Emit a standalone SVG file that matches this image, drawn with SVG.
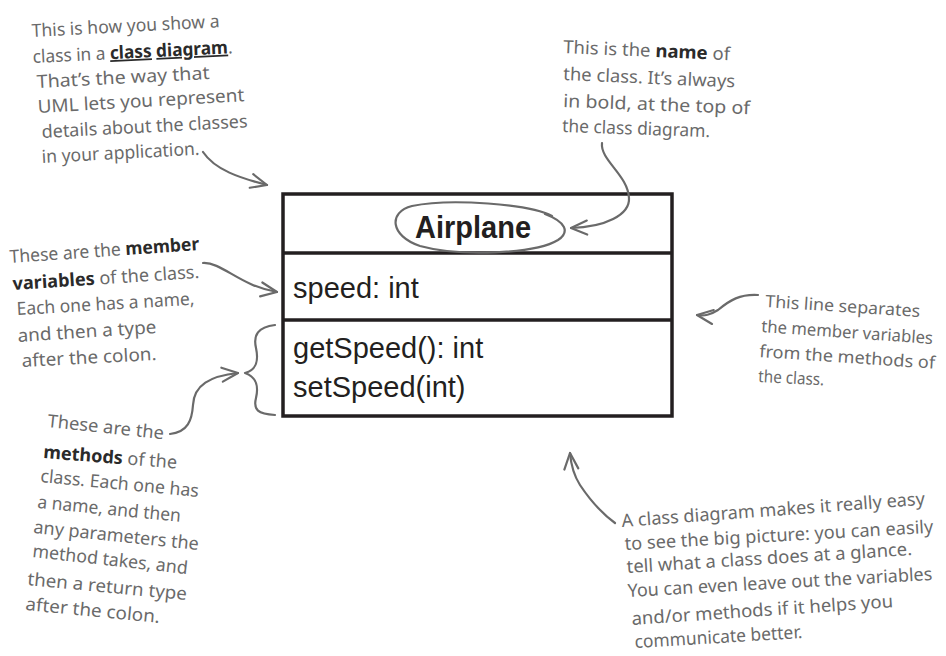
<svg xmlns="http://www.w3.org/2000/svg" width="946" height="656" viewBox="0 0 946 656">
<style>
.note{font-family:"Noto Sans","Open Sans",sans-serif;font-size:18px;fill:#6a6a6a}
.sm{font-size:17px}
.b{font-weight:bold;fill:#2a2a2a}
.u{text-decoration:underline;text-decoration-thickness:2px}
.box{fill:#fff;stroke:#231f20;stroke-width:3.5}
.sep{stroke:#231f20;stroke-width:3.5}
.uml{font-family:"Liberation Sans",Arial,sans-serif;font-size:29px;fill:#231f20}
.title{font-weight:bold;font-size:32px}
.con{fill:none;stroke:#6a6a6a;stroke-width:2.2;stroke-linecap:round;stroke-linejoin:round}
.arr{marker-end:url(#ah)}
</style>
<defs>
<marker id="ah" viewBox="-1 -1 20 18" refX="17" refY="8" markerWidth="20" markerHeight="18" markerUnits="userSpaceOnUse" orient="auto">
<path d="M1,1 L17,8 L1,15" fill="none" stroke="#6a6a6a" stroke-width="2.2" stroke-linecap="round" stroke-linejoin="round"/>
</marker>
</defs>
<rect width="946" height="656" fill="#fff"/>

<g id="class-airplane">
<rect class="box" x="283" y="194" width="389" height="222"/>
<line class="sep" x1="283" y1="253" x2="672" y2="253"/>
<line class="sep" x1="283" y1="320" x2="672" y2="320"/>
<text class="uml title" x="415" y="238" textLength="116" lengthAdjust="spacingAndGlyphs">Airplane</text>
<text class="uml" x="293" y="298">speed: int</text>
<text class="uml" x="293" y="358">getSpeed(): int</text>
<text class="uml" x="293" y="397">setSpeed(int)</text>
</g>

<g id="note-class-diagram">
<text class="note" x="32" y="37" transform="rotate(-3 32 37)" textLength="188" lengthAdjust="spacingAndGlyphs">This is how you show a</text>
<text class="note" x="33" y="63" transform="rotate(-2.8 33 63)" textLength="200" lengthAdjust="spacingAndGlyphs">class in a <tspan class="b u">class</tspan> <tspan class="b u">diagram</tspan>.</text>
<text class="note" x="37" y="88" transform="rotate(-3 37 88)" textLength="173" lengthAdjust="spacingAndGlyphs">That’s the way that</text>
<text class="note" x="38" y="113" transform="rotate(-3.3 38 113)" textLength="207" lengthAdjust="spacingAndGlyphs">UML lets you represent</text>
<text class="note" x="42" y="138" transform="rotate(-3 42 138)" textLength="206" lengthAdjust="spacingAndGlyphs">details about the classes</text>
<text class="note" x="42" y="163" transform="rotate(-3 42 163)" textLength="158" lengthAdjust="spacingAndGlyphs">in your application.</text>
</g>

<g id="note-name">
<text class="note" x="563" y="53" transform="rotate(2.5 563 53)" textLength="167" lengthAdjust="spacingAndGlyphs">This is the <tspan class="b">name</tspan> of</text>
<text class="note" x="563" y="80" transform="rotate(2.5 563 80)" textLength="172" lengthAdjust="spacingAndGlyphs">the class. It’s always</text>
<text class="note" x="563" y="107" transform="rotate(2.2 563 107)" textLength="187" lengthAdjust="spacingAndGlyphs">in bold, at the top of</text>
<text class="note" x="562" y="132" transform="rotate(2 562 132)" textLength="148" lengthAdjust="spacingAndGlyphs">the class diagram.</text>
</g>

<g id="note-member-variables">
<text class="note" x="10" y="263" transform="rotate(-3.9 10 263)" textLength="190" lengthAdjust="spacingAndGlyphs">These are the <tspan class="b">member</tspan></text>
<text class="note" x="13" y="290" transform="rotate(-3.7 13 290)" textLength="187" lengthAdjust="spacingAndGlyphs"><tspan class="b">variables</tspan> of the class.</text>
<text class="note" x="17" y="315" transform="rotate(-3.3 17 315)" textLength="178" lengthAdjust="spacingAndGlyphs">Each one has a name,</text>
<text class="note" x="18" y="342" transform="rotate(-3.7 18 342)" textLength="139" lengthAdjust="spacingAndGlyphs">and then a type</text>
<text class="note" x="22" y="367" transform="rotate(-3 22 367)" textLength="135" lengthAdjust="spacingAndGlyphs">after the colon.</text>
</g>

<g id="note-methods">
<text class="note" x="47" y="427" transform="rotate(6 47 427)" textLength="117" lengthAdjust="spacingAndGlyphs">These are the</text>
<text class="note" x="43" y="458" transform="rotate(4.5 43 458)" textLength="134" lengthAdjust="spacingAndGlyphs"><tspan class="b">methods</tspan> of the</text>
<text class="note" x="40" y="482" transform="rotate(5.4 40 482)" textLength="159" lengthAdjust="spacingAndGlyphs">class. Each one has</text>
<text class="note" x="37" y="508" transform="rotate(5.5 37 508)" textLength="144" lengthAdjust="spacingAndGlyphs">a name, and then</text>
<text class="note" x="33" y="533" transform="rotate(5.9 33 533)" textLength="166" lengthAdjust="spacingAndGlyphs">any parameters the</text>
<text class="note" x="32" y="557" transform="rotate(6.3 32 557)" textLength="156" lengthAdjust="spacingAndGlyphs">method takes, and</text>
<text class="note" x="27" y="585" transform="rotate(5.4 27 585)" textLength="160" lengthAdjust="spacingAndGlyphs">then a return type</text>
<text class="note" x="25" y="610" transform="rotate(5.5 25 610)" textLength="135" lengthAdjust="spacingAndGlyphs">after the colon.</text>
</g>

<g id="note-separator">
<text class="note sm" x="765" y="307" transform="rotate(3.7 765 307)" textLength="155" lengthAdjust="spacingAndGlyphs">This line separates</text>
<text class="note sm" x="761" y="332" transform="rotate(4 761 332)" textLength="172" lengthAdjust="spacingAndGlyphs">the member variables</text>
<text class="note sm" x="759" y="357" transform="rotate(3.8 759 357)" textLength="176" lengthAdjust="spacingAndGlyphs">from the methods of</text>
<text class="note sm" x="758" y="382" transform="rotate(3 758 382)" textLength="66" lengthAdjust="spacingAndGlyphs">the class.</text>
</g>

<g id="note-big-picture">
<text class="note" x="622" y="527" transform="rotate(-4.2 622 527)" textLength="304" lengthAdjust="spacingAndGlyphs">A class diagram makes it really easy</text>
<text class="note" x="625" y="550" transform="rotate(-3.2 625 550)" textLength="309" lengthAdjust="spacingAndGlyphs">to see the big picture: you can easily</text>
<text class="note" x="627" y="573" transform="rotate(-3.6 627 573)" textLength="286" lengthAdjust="spacingAndGlyphs">tell what a class does at a glance.</text>
<text class="note" x="628" y="597" transform="rotate(-3.2 628 597)" textLength="305" lengthAdjust="spacingAndGlyphs">You can even leave out the variables</text>
<text class="note" x="632" y="625" transform="rotate(-3.9 632 625)" textLength="262" lengthAdjust="spacingAndGlyphs">and/or methods if it helps you</text>
<text class="note" x="635" y="648" transform="rotate(-3.4 635 648)" textLength="168" lengthAdjust="spacingAndGlyphs">communicate better.</text>
</g>

<g id="connectors">
<path class="con" d="M552,216 C530,204 450,198 412,206 C388,212 390,236 420,246 C460,257 535,254 558,240 C570,232 566,222 545,214"/>
<path class="con arr" d="M203,152 C215,170 240,178 267,185"/>
<path class="con arr" d="M602,143 C600,160 628,175 629,198 C630,215 605,227 571,228"/>
<path class="con arr" d="M203,263 C222,262 240,286 277,292"/>
<path class="con" d="M275,325 C258,327 253,335 256,348 C259,362 256,370 245,373 C256,377 259,385 256,398 C253,410 258,414 275,415"/>
<path class="con arr" d="M170,434 C188,432 192,420 193,405 C194,385 210,376 238,373"/>
<path class="con arr" d="M758,295 C740,294 730,300 718,310 C710,315 705,316 697,315"/>
<path class="con arr" d="M615,523 C600,512 590,500 580,485 C573,474 571,465 570,453"/>
</g>
</svg>
